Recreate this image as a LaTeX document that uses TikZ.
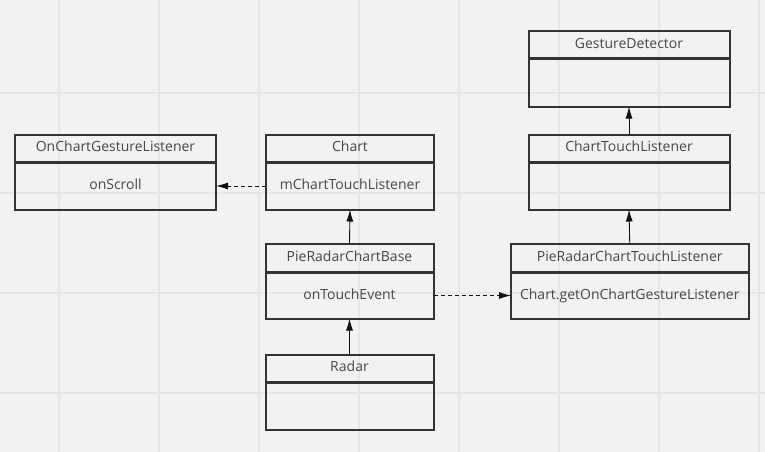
\documentclass[tikz,border=0pt]{standalone}
\usepackage{fontspec}
\setmainfont{Open Sans}
\usetikzlibrary{arrows.meta}
\definecolor{bgc}{HTML}{F2F2F2}
\definecolor{gridc}{HTML}{E6E6E6}
\definecolor{boxc}{HTML}{333333}
\definecolor{txtc}{HTML}{474747}
\definecolor{arrc}{HTML}{111111}
\tikzset{
  hdr/.style={draw=boxc, line width=2pt, rectangle, inner sep=0pt, outer sep=0pt,
    text=txtc, font=\fontsize{14}{16}\selectfont, text height=10pt, text depth=3pt},
  bdy/.style={hdr},
  arr/.style={draw=arrc, line width=0.9pt, -{Latex[length=12pt,width=7pt]}},
  darr/.style={arr, dash pattern=on 4pt off 3pt},
}
\begin{document}
\begin{tikzpicture}[x=1pt,y=-1pt]
\fill[bgc] (0,0) rectangle (765,452);
\useasboundingbox (0,0) rectangle (765,452);
\foreach \gx in {59,159,...,759} {\draw[gridc, line width=1.2pt] (\gx,0) -- (\gx,452);}
\foreach \gy in {93,193,...,393} {\draw[gridc, line width=1.2pt] (0,\gy) -- (765,\gy);}
% OnChartGestureListener
\node[hdr, minimum width=201pt, minimum height=27pt] (ocglH) at (115.5,148) {OnChartGestureListener};
\node[bdy, minimum width=201pt, minimum height=47pt] (ocglB) at (115.5,186) {onScroll};
% Chart
\node[hdr, minimum width=168pt, minimum height=27pt] (chartH) at (350,148) {Chart};
\node[bdy, minimum width=168pt, minimum height=47pt] (chartB) at (350,186) {mChartTouchListener};
% PieRadarChartBase
\node[hdr, minimum width=168pt, minimum height=28pt] (prcbH) at (349.5,257.5) {PieRadarChartBase};
\node[bdy, minimum width=168pt, minimum height=46pt] (prcbB) at (349.5,295.5) {onTouchEvent};
% Radar
\node[hdr, minimum width=168pt, minimum height=27pt] (radarH) at (349.5,368) {Radar};
\node[bdy, minimum width=168pt, minimum height=47pt] (radarB) at (349.5,406) {};
% GestureDetector
\node[hdr, minimum width=201pt, minimum height=27pt] (gdH) at (629,45) {GestureDetector};
\node[bdy, minimum width=201pt, minimum height=47pt] (gdB) at (629,83) {};
% ChartTouchListener
\node[hdr, minimum width=201pt, minimum height=27pt] (ctlH) at (629,148) {ChartTouchListener};
\node[bdy, minimum width=201pt, minimum height=47pt] (ctlB) at (629,186) {};
% PieRadarChartTouchListener
\node[hdr, minimum width=237.5pt, minimum height=28pt] (prctlH) at (629.75,257.5) {PieRadarChartTouchListener};
\node[bdy, minimum width=237.5pt, minimum height=46pt] (prctlB) at (629.75,295.5) {Chart.getOnChartGestureListener};
% connectors
\draw[darr] (chartB.west) -- (ocglB.east);
\draw[darr] (prcbB.east) -- (prctlB.west);
\draw[arr] (prcbH.north) -- (chartB.south);
\draw[arr] (radarH.north) -- (prcbB.south);
\draw[arr] (prctlH.north) -- (ctlB.south);
\draw[arr] (ctlH.north) -- (gdB.south);
\end{tikzpicture}
\end{document}
